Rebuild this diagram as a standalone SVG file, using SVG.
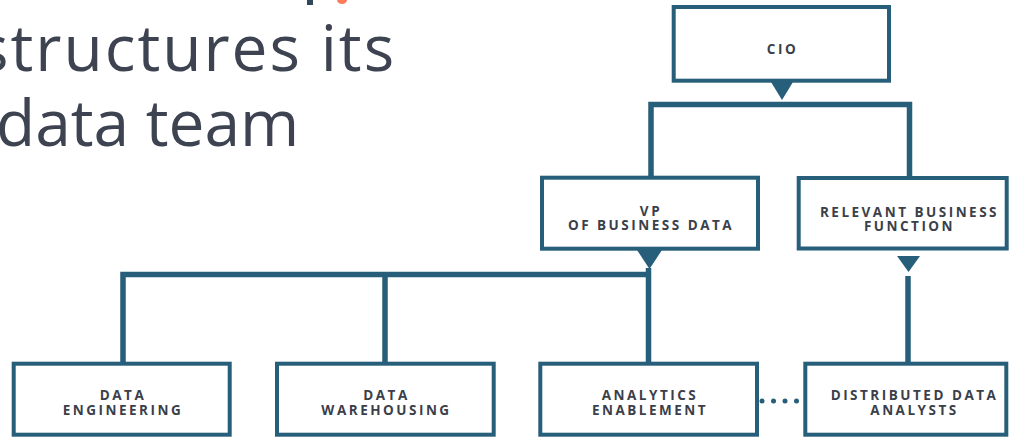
<svg xmlns="http://www.w3.org/2000/svg" width="1009" height="439" viewBox="0 0 1009 439">
<style>
.title{font-family:"Open Sans","Liberation Sans",sans-serif;font-size:64px;fill:#3d4350;}
.box{fill:#ffffff;stroke:#275e7a;stroke-width:4;}
.lbl{font-family:"Open Sans","Liberation Sans",sans-serif;font-weight:700;font-size:13.5px;letter-spacing:2.5px;fill:#3b3f4a;text-anchor:middle;}
.ln{fill:none;stroke:#275e7a;stroke-width:5.5;stroke-linejoin:miter;stroke-linecap:butt;}
.tri{fill:#275e7a;}
</style>
<rect x="307" y="0" width="6" height="5" fill="#33475b"/>
<ellipse cx="342" cy="0" rx="5" ry="4" fill="#ff7a59"/>
<text class="title" x="-22" y="71" letter-spacing="2">structures its</text>
<text class="title" x="-4" y="146">data team</text>
<g id="connectors">
<polygon class="tri" points="771,82 793,82 782,100"/>
<path class="ln" d="M651,177 V104.5 H909.5 V180"/>
<polygon class="tri" points="637,250 662,250 649.5,269"/>
<path class="ln" d="M123,362 V274.5 H651"/>
<path class="ln" d="M648.5,268 V362"/>
<path class="ln" d="M385,274.5 V362"/>
<polygon class="tri" points="897,256 920,256 908.5,272"/>
<path class="ln" d="M908,276 V362"/>
<g fill="#275e7a">
<circle cx="762" cy="401" r="2.5"/>
<circle cx="773.5" cy="401" r="2.5"/>
<circle cx="785" cy="401" r="2.5"/>
<circle cx="796.5" cy="401" r="2.5"/>
</g>
</g>
<g id="cio">
<rect class="box" x="673.7" y="7" width="215.3" height="73.7"/>
<text class="lbl" x="782.5" y="54">CIO</text>
</g>
<g id="vp">
<rect class="box" x="542" y="177.7" width="216" height="71"/>
<text class="lbl" x="651" y="216">VP</text>
<text class="lbl" x="651" y="230">OF BUSINESS DATA</text>
</g>
<g id="relevant">
<rect class="box" x="798.7" y="178" width="208" height="70.5"/>
<text class="lbl" x="909.5" y="216.5">RELEVANT BUSINESS</text>
<text class="lbl" x="909.5" y="230.5">FUNCTION</text>
</g>
<g id="data-engineering">
<rect class="box" x="13.7" y="363.7" width="216" height="71"/>
<text class="lbl" x="123" y="400">DATA</text>
<text class="lbl" x="123" y="414.5">ENGINEERING</text>
</g>
<g id="data-warehousing">
<rect class="box" x="277" y="363.7" width="216.7" height="71"/>
<text class="lbl" x="386.5" y="400">DATA</text>
<text class="lbl" x="386.5" y="414.5">WAREHOUSING</text>
</g>
<g id="analytics">
<rect class="box" x="540.3" y="363.7" width="216.7" height="71"/>
<text class="lbl" x="650" y="400">ANALYTICS</text>
<text class="lbl" x="650" y="414.5">ENABLEMENT</text>
</g>
<g id="distributed">
<rect class="box" x="805.3" y="363.7" width="201" height="71"/>
<text class="lbl" x="914.5" y="400">DISTRIBUTED DATA</text>
<text class="lbl" x="914.5" y="414.5">ANALYSTS</text>
</g>
</svg>
